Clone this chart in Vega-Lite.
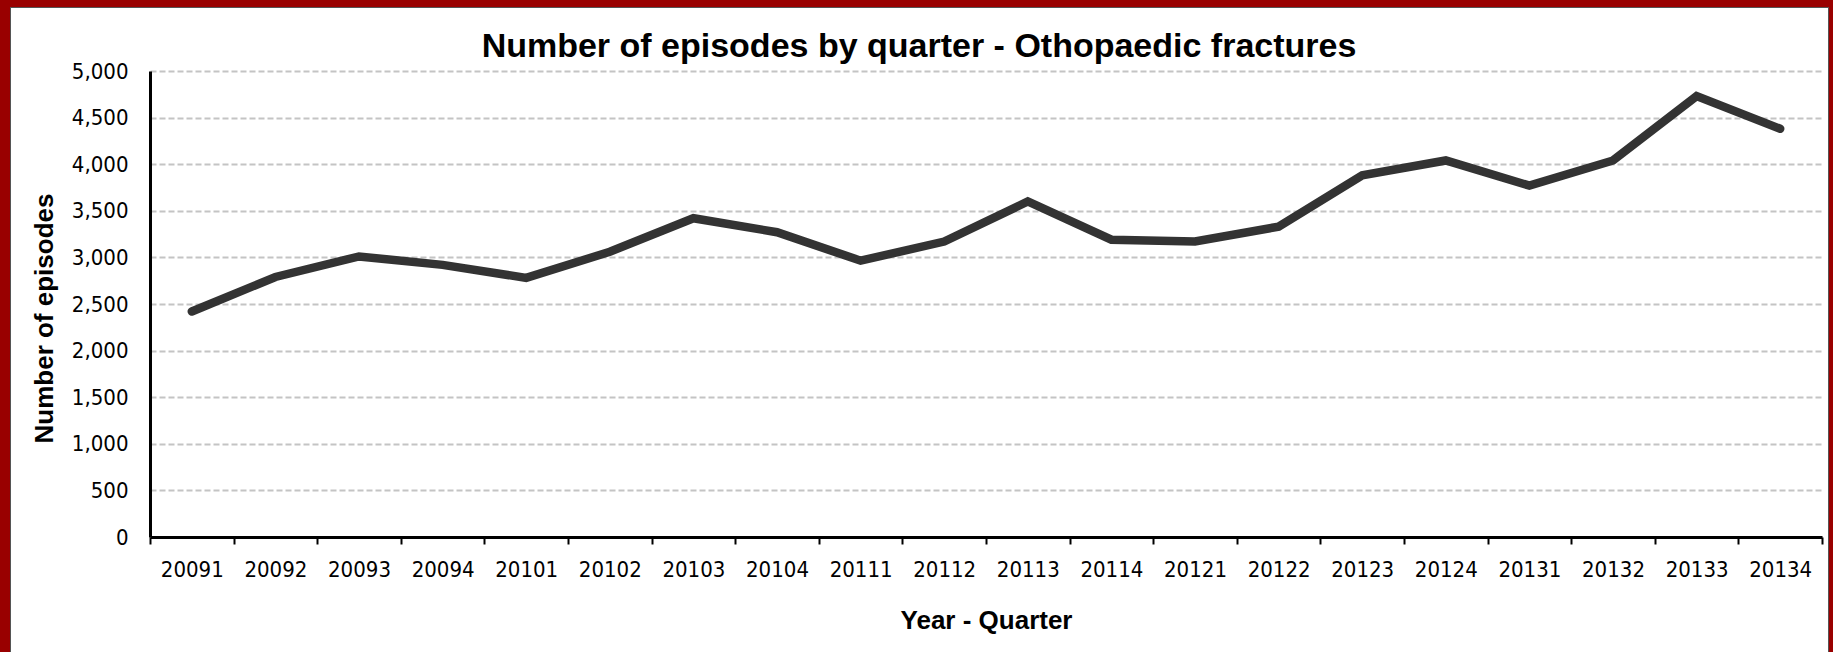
{
  "$schema": "https://vega.github.io/schema/vega-lite/v6.json",
  "autosize": {"type": "none"},
  "width": 1818,
  "height": 645,
  "padding": {"left": 10, "top": 7, "right": 5, "bottom": 0},
  "background": "#990000",
  "title": {
    "text": "Number of episodes by quarter - Othopaedic fractures",
    "font": "Liberation Sans",
    "fontSize": 34,
    "fontWeight": "bold",
    "color": "#000000",
    "anchor": "middle",
    "frame": "group",
    "offset": -57
  },
  "data": {
    "values": [
      {"quarter": "20091", "episodes": 2420},
      {"quarter": "20092", "episodes": 2790},
      {"quarter": "20093", "episodes": 3010},
      {"quarter": "20094", "episodes": 2920},
      {"quarter": "20101", "episodes": 2780},
      {"quarter": "20102", "episodes": 3060},
      {"quarter": "20103", "episodes": 3420},
      {"quarter": "20104", "episodes": 3270},
      {"quarter": "20111", "episodes": 2965},
      {"quarter": "20112", "episodes": 3170},
      {"quarter": "20113", "episodes": 3600},
      {"quarter": "20114", "episodes": 3190},
      {"quarter": "20121", "episodes": 3170},
      {"quarter": "20122", "episodes": 3330},
      {"quarter": "20123", "episodes": 3880},
      {"quarter": "20124", "episodes": 4040},
      {"quarter": "20131", "episodes": 3770},
      {"quarter": "20132", "episodes": 4040},
      {"quarter": "20133", "episodes": 4730},
      {"quarter": "20134", "episodes": 4380}
    ]
  },
  "mark": {
    "type": "line",
    "stroke": "#333333",
    "strokeWidth": 8.5,
    "strokeCap": "round",
    "strokeJoin": "miter"
  },
  "encoding": {
    "x": {
      "field": "quarter",
      "type": "ordinal",
      "sort": null,
      "scale": {"type": "band", "range": [140, 1812], "paddingInner": 0, "paddingOuter": 0},
      "axis": {
        "title": "Year - Quarter",
        "offset": -115,
        "labelAngle": 0,
        "labelFont": "Liberation Sans Narrow, DejaVu Sans Condensed, Roboto Condensed, Liberation Sans",
        "labelFontSize": 22,
        "labelColor": "#000000",
        "labelPadding": 15,
        "tickBand": "extent",
        "ticks": true,
        "tickSize": 7,
        "tickWidth": 2,
        "tickColor": "#000000",
        "domainColor": "#000000",
        "domainWidth": 3,
        "grid": false,
        "titleFont": "Liberation Sans",
        "titleFontSize": 26,
        "titleFontWeight": "bold",
        "titleColor": "#000000",
        "titlePadding": 27
      }
    },
    "y": {
      "field": "episodes",
      "type": "quantitative",
      "scale": {"domain": [0, 5000], "range": [530, 64], "nice": false, "zero": true},
      "axis": {
        "title": "Number of episodes",
        "offset": -140,
        "values": [0, 500, 1000, 1500, 2000, 2500, 3000, 3500, 4000, 4500, 5000],
        "format": ",d",
        "labelFont": "Liberation Sans Narrow, DejaVu Sans Condensed, Roboto Condensed, Liberation Sans",
        "labelFontSize": 22,
        "labelColor": "#000000",
        "labelPadding": 22,
        "ticks": false,
        "tickSize": 0,
        "domainColor": "#000000",
        "domainWidth": 3,
        "grid": true,
        "gridColor": "#c4c4c4",
        "gridWidth": 2,
        "gridDash": [6, 3],
        "titleFont": "Liberation Sans",
        "titleFontSize": 26,
        "titleFontWeight": "bold",
        "titleColor": "#000000",
        "titlePadding": 14,
        "titleY": 311
      }
    }
  },
  "config": {
    "view": {"fill": "#ffffff", "stroke": "#555555", "strokeWidth": 1}
  }
}
